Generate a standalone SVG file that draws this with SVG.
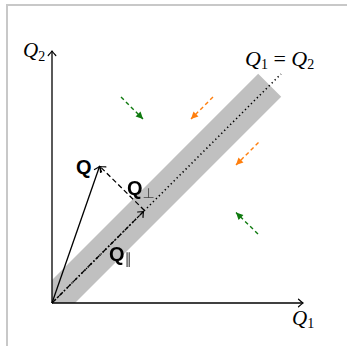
<svg xmlns="http://www.w3.org/2000/svg" width="347" height="346" viewBox="0 0 347 346">
<defs>
<style>
.frame{stroke:#c8c8c8;stroke-width:2;fill:none}
.axis{stroke:#000;stroke-width:1.3;fill:none}
.vec{stroke:#000;stroke-width:1.3;fill:none}
.green{stroke:#0f7a0f;stroke-width:1.4;fill:none;stroke-dasharray:4 3}
.orange{stroke:#ff7f0e;stroke-width:1.4;fill:none;stroke-dasharray:4 3}
.math{font-family:"Liberation Serif","DejaVu Serif",serif;font-style:italic;fill:#000}
.bold{font-family:"Liberation Sans","DejaVu Sans",sans-serif;font-weight:bold;fill:#000}
.sub{font-family:"Liberation Serif","DejaVu Serif",serif;font-style:normal}
.sym{font-family:"DejaVu Sans",sans-serif;font-weight:normal;font-style:normal;fill:#444}
</style>
<filter id="flat" x="0" y="0" width="1" height="1"><feOffset dx="0" dy="0"/></filter>
<marker id="to" markerUnits="userSpaceOnUse" markerWidth="12" markerHeight="12" viewBox="-6 -6 12 12" refX="0" refY="0" orient="auto">
<path d="M-4.5,-3.8 Q-1.2,-0.8 0,0 Q-1.2,0.8 -4.5,3.8" fill="none" stroke="#000" stroke-width="1.2" stroke-linecap="round"/>
</marker>
<marker id="tg" markerUnits="userSpaceOnUse" markerWidth="12" markerHeight="12" viewBox="-8 -6 12 12" refX="0" refY="0" orient="auto">
<path d="M0,0 L-7,-3.5 L-7,3.5 Z" fill="#0f7a0f"/>
</marker>
<marker id="tor" markerUnits="userSpaceOnUse" markerWidth="12" markerHeight="12" viewBox="-8 -6 12 12" refX="0" refY="0" orient="auto">
<path d="M0,0 L-7,-3.5 L-7,3.5 Z" fill="#ff7f0e"/>
</marker>
</defs>
<rect width="347" height="346" fill="#fff"/>
<g id="frame">
<line class="frame" x1="7" y1="5" x2="347" y2="5"/>
<line class="frame" x1="7" y1="4" x2="7" y2="346"/>
</g>
<g id="band">
<polygon points="52,280 258.2,73.8 281.2,96.8 75,303 52,303" fill="#c0c0c0"/>
</g>
<g id="connectors">
<line id="diag" x1="52" y1="303" x2="281" y2="74" stroke="#000" stroke-width="1.6" stroke-dasharray="1.3 2.9"/>
<line id="x-axis" class="axis" x1="52" y1="303" x2="303" y2="303" marker-end="url(#to)"/>
<line id="y-axis" class="axis" x1="52" y1="303" x2="52" y2="51" marker-end="url(#to)"/>
<line id="Q" class="vec" x1="52" y1="303" x2="99.5" y2="166.5" marker-end="url(#to)"/>
<line id="Qpar" class="vec" x1="52" y1="303" x2="143.5" y2="211.5" stroke-dasharray="5 2 1.3 2" marker-end="url(#to)"/>
<line id="Qperp" class="vec" x1="144.5" y1="210.5" x2="100" y2="166.5" stroke-dasharray="5 3" marker-end="url(#to)"/>
<line class="green" x1="121" y1="97" x2="143" y2="119" marker-end="url(#tg)"/>
<line class="green" x1="258" y1="234" x2="236" y2="212.5" marker-end="url(#tg)"/>
<line class="orange" x1="213" y1="97" x2="191" y2="119" marker-end="url(#tor)"/>
<line class="orange" x1="258.5" y1="142.5" x2="236" y2="165" marker-end="url(#tor)"/>
</g>
<g id="label-Q2">
<text class="math" x="23" y="57" font-size="21">Q<tspan class="sub" font-size="14" dy="4">2</tspan></text>
</g>
<g id="label-Q1">
<text class="math" x="292" y="325" font-size="21">Q<tspan class="sub" font-size="14" dy="3">1</tspan></text>
</g>
<g id="label-eq">
<text class="math" x="245" y="66" font-size="22">Q<tspan class="sub" font-size="14" dy="3">1</tspan><tspan class="sub" dy="-3" font-size="22"> = </tspan>Q<tspan class="sub" font-size="14" dy="3">2</tspan></text>
</g>
<g id="label-Qvec">
<text class="bold" x="76" y="174" font-size="20">Q</text>
</g>
<g id="label-Qperp" filter="url(#flat)">
<text class="bold" x="127" y="195" font-size="20">Q<tspan class="sym" font-size="14" dy="3">⊥</tspan></text>
</g>
<g id="label-Qpar" filter="url(#flat)">
<text class="bold" x="109" y="261" font-size="20">Q<tspan class="sym" font-size="15" dy="3">∥</tspan></text>
</g>
</svg>
